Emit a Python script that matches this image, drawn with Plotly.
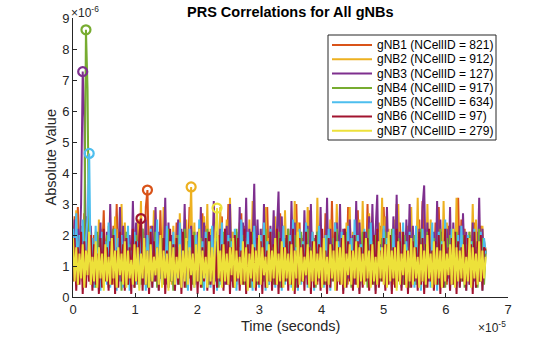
import numpy as np
import plotly.graph_objects as go

# ---------------- data (values in units of 1e-6) ----------------
SAMPLE_RATE = 3.84e6          # Hz (decimated correlation output)
VALUE_UNIT = 1e-6

names = ["gNB1 (NCellID = 821)", "gNB2 (NCellID = 912)", "gNB3 (NCellID = 127)",
         "gNB4 (NCellID = 917)", "gNB5 (NCellID = 634)", "gNB6 (NCellID = 97)",
         "gNB7 (NCellID = 279)"]

gnb1 = [1.2, 2.6, 0.7, 2.9, 1.0, 2.3, 0.5, 2.7, 0.9, 2.1, 0.6, 1.8, 1.1, 2.0, 0.4, 1.7,
        0.8, 2.2, 1.3, 2.8, 0.6, 1.9, 0.9, 1.6, 0.5, 2.3, 1.0, 3.0, 0.7, 2.1, 0.8, 1.5,
        0.5, 2.0, 1.1, 1.7, 0.6, 2.2, 0.9, 1.8, 0.4, 2.5, 1.2, 2.1, 0.7, 2.9, 3.45, 0.9,
        2.3, 0.6, 1.6, 1.0, 1.9, 0.5, 2.8, 0.8, 2.2, 1.3, 1.7, 0.4, 2.0, 0.9, 1.5, 0.6,
        2.4, 1.1, 1.9, 0.5, 1.6, 0.8, 2.2, 1.0, 2.9, 0.6, 2.1, 0.4, 1.7, 1.2, 1.8, 0.7,
        2.7, 0.9, 2.3, 0.5, 2.0, 1.1, 1.6, 0.6, 2.4, 0.8, 1.9, 1.3, 2.6, 0.5, 2.2, 0.9,
        3.0, 0.7, 2.1, 1.0, 1.7, 0.4, 1.8, 0.9, 2.7, 0.6, 2.3, 1.2, 2.0, 0.5, 1.6, 0.8,
        2.2, 1.1, 1.6, 0.6, 1.9, 0.9, 2.4, 0.5, 2.9, 1.0, 2.1, 0.7, 1.7, 0.4, 2.0, 1.2,
        2.7, 0.6, 2.3, 0.9, 1.8, 0.5, 1.6, 1.1, 2.2, 0.7, 3.0, 0.8, 2.4, 0.5, 1.9, 1.0,
        1.7, 0.6, 2.8, 0.9, 2.1, 1.2, 1.6, 0.4, 2.3, 0.8, 1.9, 0.6, 2.7, 1.0, 2.2, 0.5,
        3.1, 0.8, 2.4, 1.1, 2.0, 0.6, 1.7, 0.9, 2.2, 0.5, 2.9, 1.2, 1.6, 0.7, 1.9, 0.9,
        2.8, 0.5, 1.8, 1.0, 2.1, 0.7, 3.0, 0.6, 2.4, 1.1, 2.0, 0.4, 1.7, 0.9, 2.3, 0.6,
        2.9, 1.0, 2.2, 0.5, 1.6, 0.8, 1.9, 1.2, 3.0, 0.6, 2.4, 0.9, 2.1, 0.5, 1.8, 1.0,
        2.3, 0.7, 1.7, 0.4, 2.0, 1.1, 2.5, 0.6, 3.1, 0.8, 2.2, 1.0, 1.6, 0.5, 1.9, 0.9,
        2.4, 0.6, 2.9, 1.2, 2.1, 0.7, 1.6, 0.4, 2.3, 1.0, 1.8, 0.6, 2.0, 0.9, 3.2, 0.7,
        2.5, 1.1, 2.2, 0.5, 1.7, 0.8, 2.0, 0.6, 2.4, 1.0, 2.1, 0.5, 2.3, 0.9, 1.8, 1.4]

gnb2 = [2.0, 0.9, 2.8, 0.6, 1.7, 1.1, 1.9, 0.5, 2.6, 0.8, 2.2, 0.4, 1.8, 1.0, 2.1, 0.7,
        2.5, 0.5, 2.0, 1.2, 1.6, 0.6, 2.3, 0.9, 1.8, 0.4, 2.6, 1.0, 2.2, 0.7, 3.0, 0.5,
        2.4, 0.8, 1.9, 0.5, 1.7, 1.1, 2.1, 0.6, 2.5, 0.9, 3.1, 0.4, 2.0, 0.8, 1.6, 0.6,
        2.2, 1.0, 2.8, 0.5, 1.9, 0.7, 1.7, 0.9, 2.9, 0.6, 2.1, 1.2, 1.6, 0.4, 2.3, 0.8,
        2.0, 0.5, 2.7, 0.9, 1.8, 0.6, 2.5, 1.0, 1.8, 3.55, 0.7, 2.4, 0.5, 1.7, 1.1, 2.1,
        0.6, 2.6, 0.9, 3.0, 0.5, 2.2, 0.8, 1.7, 1.0, 2.0, 0.4, 2.9, 0.7, 1.6, 1.1, 2.5,
        0.6, 3.2, 0.9, 2.1, 0.5, 1.6, 1.2, 2.4, 0.7, 1.8, 0.4, 2.0, 0.9, 2.5, 0.6, 3.1,
        1.0, 2.3, 0.5, 1.7, 0.8, 2.2, 0.6, 2.9, 1.1, 1.9, 0.5, 2.0, 0.8, 2.6, 0.4, 1.8,
        0.9, 2.2, 0.6, 2.8, 1.0, 1.6, 0.5, 2.1, 0.8, 3.1, 0.6, 2.4, 1.2, 1.7, 0.5, 2.3,
        0.9, 2.9, 0.6, 2.0, 1.0, 1.8, 0.4, 3.2, 0.7, 2.3, 0.9, 1.6, 0.5, 2.1, 1.1, 2.5,
        0.6, 1.7, 0.8, 3.0, 0.5, 2.2, 1.0, 1.8, 0.7, 2.4, 0.4, 2.9, 0.9, 2.1, 0.6, 1.6,
        1.1, 2.5, 0.5, 3.1, 0.8, 1.9, 0.6, 2.7, 1.0, 2.0, 0.5, 1.7, 0.7, 2.4, 0.9, 3.2,
        0.5, 2.6, 1.0, 2.2, 0.6, 1.8, 0.4, 2.5, 0.9, 3.0, 0.7, 2.1, 1.1, 1.7, 0.5, 2.3,
        0.8, 2.9, 0.6, 1.9, 1.0, 3.2, 0.5, 2.2, 0.9, 1.6, 0.4, 3.0, 0.7, 2.5, 1.2, 1.8,
        0.6, 2.3, 0.9, 1.7, 0.5, 3.1, 0.8, 2.4, 0.6, 1.9, 1.0, 2.2, 0.5, 3.2, 0.7, 2.0,
        0.9, 2.4, 0.5, 1.8, 1.1, 2.1, 0.6, 3.0, 0.8, 2.5, 0.4, 1.7, 0.9, 2.3, 1.0, 1.6]

gnb3 = [1.0, 2.5, 0.7, 2.2, 1.2, 3.0, 7.27, 5.8, 0.9, 2.6, 0.5, 2.3, 1.0, 1.8, 0.6, 2.0,
        0.9, 2.4, 0.5, 1.7, 1.1, 2.1, 0.6, 3.0, 0.8, 2.2, 0.4, 1.6, 1.0, 2.9, 0.7, 2.3,
        0.5, 1.7, 0.9, 2.0, 0.6, 3.1, 1.0, 2.4, 0.5, 1.8, 0.8, 2.2, 0.4, 2.5, 1.1, 1.9,
        0.7, 2.3, 0.5, 2.9, 0.9, 2.1, 0.6, 1.6, 1.0, 3.2, 0.4, 2.4, 0.8, 2.0, 0.6, 1.7,
        1.0, 2.5, 0.5, 2.2, 0.8, 3.0, 0.6, 1.8, 0.9, 2.3, 0.5, 1.6, 1.1, 2.1, 0.7, 2.9,
        0.4, 2.4, 0.8, 1.7, 0.6, 2.0, 1.0, 3.1, 0.5, 2.5, 0.9, 2.2, 0.6, 1.8, 0.4, 2.3,
        0.8, 3.0, 0.5, 1.6, 1.0, 2.1, 0.7, 2.9, 0.5, 2.4, 0.9, 3.2, 0.6, 2.2, 0.8, 1.7,
        3.65, 0.6, 2.5, 0.9, 2.2, 0.5, 3.0, 0.8, 1.6, 0.4, 2.3, 1.0, 2.8, 0.6, 2.1, 3.4,
        0.7, 2.6, 0.5, 1.9, 0.9, 2.2, 0.6, 3.1, 1.0, 2.4, 0.5, 1.7, 0.8, 2.0, 0.6, 2.8,
        0.9, 2.3, 0.5, 3.0, 0.7, 1.8, 1.0, 2.1, 0.6, 2.9, 0.4, 1.6, 0.8, 3.2, 0.5, 2.2,
        1.0, 1.7, 0.6, 2.4, 0.8, 3.0, 0.5, 2.2, 0.9, 1.8, 0.6, 2.5, 1.1, 2.0, 0.4, 3.1,
        0.7, 2.4, 0.9, 1.8, 0.5, 2.1, 0.8, 2.6, 0.6, 3.0, 1.0, 2.3, 3.3, 0.5, 1.7, 0.8,
        2.2, 0.6, 2.9, 1.0, 1.6, 0.5, 2.6, 0.8, 3.3, 0.6, 2.1, 0.9, 1.8, 0.4, 2.5, 1.0,
        3.0, 0.6, 2.3, 0.8, 1.7, 0.5, 2.2, 1.0, 2.9, 3.6, 0.7, 2.4, 0.5, 1.6, 0.9, 2.1,
        0.6, 3.1, 0.8, 2.5, 0.5, 1.8, 1.0, 2.2, 0.6, 2.9, 0.4, 2.4, 0.9, 1.7, 0.7, 2.3,
        0.5, 2.7, 1.0, 2.1, 0.6, 1.9, 0.8, 2.4, 0.5, 1.6, 0.9, 3.2, 0.6, 2.2, 0.8, 1.5]

gnb4 = [1.5, 0.6, 2.0, 0.4, 1.8, 0.9, 2.2, 1.7, 8.62, 6.7, 0.8, 1.9, 0.5, 1.6, 0.3, 2.1,
        0.7, 1.8, 0.4, 1.5, 0.9, 2.0, 0.3, 1.7, 0.6, 2.2, 0.5, 1.4, 0.8, 1.9, 0.2, 1.6,
        0.6, 2.1, 0.4, 1.7, 0.8, 1.5, 0.3, 2.0, 0.6, 1.8, 0.4, 2.2, 0.7, 1.6, 0.3, 1.9,
        0.5, 1.4, 0.8, 2.1, 0.3, 1.7, 0.6, 1.9, 0.4, 1.5, 0.9, 2.2, 0.5, 1.8, 0.2, 1.6,
        0.7, 2.0, 0.4, 1.6, 0.8, 2.2, 0.3, 1.8, 0.6, 1.5, 0.4, 2.1, 0.7, 1.7, 0.5, 1.9,
        0.3, 1.6, 0.7, 2.2, 0.4, 1.8, 0.6, 1.4, 0.9, 2.0, 0.3, 1.7, 0.5, 2.1, 0.8, 1.5,
        0.4, 1.9, 0.6, 1.7, 0.3, 2.2, 0.8, 1.6, 0.5, 2.0, 0.4, 1.8, 0.7, 1.5, 0.3, 2.1,
        0.6, 1.7, 0.4, 2.0, 0.8, 1.5, 0.5, 2.2, 0.3, 1.8, 0.7, 1.6, 0.4, 1.9, 0.6, 2.1,
        0.3, 1.5, 0.7, 1.9, 0.5, 2.2, 0.4, 1.7, 0.8, 2.0, 0.3, 1.6, 0.6, 2.1, 0.5, 1.8,
        0.7, 2.2, 0.4, 1.6, 0.6, 1.9, 0.3, 2.1, 0.8, 1.5, 0.5, 1.8, 0.4, 2.0, 0.7, 1.7,
        0.5, 1.9, 0.3, 2.2, 0.7, 1.6, 0.5, 1.8, 0.4, 2.1, 0.8, 1.5, 0.3, 1.9, 0.6, 2.0,
        0.4, 1.7, 0.8, 2.1, 0.5, 1.5, 0.3, 2.2, 0.6, 1.8, 0.4, 2.0, 0.7, 1.6, 0.5, 1.9,
        0.6, 2.1, 0.4, 1.8, 0.7, 2.2, 0.5, 1.5, 0.3, 1.9, 0.8, 1.7, 0.4, 2.0, 0.6, 1.6,
        0.3, 1.8, 0.6, 2.0, 0.4, 1.6, 0.8, 2.2, 0.5, 1.7, 0.3, 2.1, 0.6, 1.5, 0.4, 1.9,
        0.7, 1.6, 0.4, 2.2, 0.6, 1.8, 0.3, 1.9, 0.8, 2.0, 0.5, 1.5, 0.4, 2.1, 0.6, 1.7,
        0.5, 2.0, 0.3, 1.7, 0.7, 2.1, 0.4, 1.8, 0.6, 1.6, 0.3, 2.2, 0.5, 1.9, 0.4, 1.5]

gnb5 = [2.2, 0.8, 2.7, 0.5, 2.0, 0.9, 2.5, 0.4, 1.8, 2.6, 4.63, 0.6, 1.9, 0.3, 2.3, 0.7,
        1.6, 0.2, 2.1, 0.6, 1.8, 0.4, 2.4, 0.3, 1.5, 0.7, 2.2, 0.2, 1.9, 0.5, 2.0, 0.3,
        1.7, 0.6, 2.3, 0.2, 1.5, 0.5, 2.1, 0.4, 1.8, 0.3, 2.4, 0.6, 1.6, 0.2, 2.0, 0.5,
        2.2, 0.3, 1.7, 0.6, 2.5, 0.2, 1.9, 0.4, 1.6, 0.5, 2.3, 0.3, 1.8, 0.6, 2.1, 0.2,
        1.5, 0.4, 2.4, 0.3, 1.9, 0.6, 1.7, 0.2, 2.2, 0.5, 1.6, 0.3, 2.0, 0.4, 2.5, 0.6,
        1.8, 0.2, 2.1, 0.5, 1.6, 0.3, 2.3, 0.6, 1.9, 0.2, 1.7, 0.4, 2.4, 0.3, 1.5, 0.5,
        2.0, 0.3, 1.8, 0.6, 2.2, 0.2, 1.6, 0.4, 2.5, 0.5, 1.9, 0.3, 2.1, 0.6, 1.7, 0.2,
        2.3, 0.5, 1.6, 0.3, 2.0, 0.6, 2.4, 0.2, 1.8, 0.4, 2.2, 0.5, 1.5, 0.3, 2.1, 0.6,
        1.9, 0.2, 2.3, 0.4, 1.7, 0.6, 2.0, 0.3, 2.5, 0.5, 1.6, 0.2, 2.2, 0.4, 1.8, 0.6,
        2.4, 0.3, 1.5, 0.5, 2.1, 0.2, 1.9, 0.6, 2.3, 0.4, 1.7, 0.3, 2.0, 0.5, 2.2, 0.2,
        1.6, 0.6, 2.4, 0.3, 1.8, 0.5, 2.1, 0.2, 1.7, 0.4, 2.3, 0.6, 1.9, 0.3, 2.5, 0.5,
        2.0, 0.2, 1.7, 0.4, 2.2, 0.6, 1.5, 0.3, 2.4, 0.5, 1.8, 0.2, 2.1, 0.4, 1.6, 0.6,
        2.3, 0.3, 1.9, 0.5, 1.6, 0.2, 2.2, 0.4, 2.0, 0.6, 1.7, 0.3, 2.4, 0.5, 1.8, 0.2,
        2.1, 0.6, 1.5, 0.3, 2.3, 0.4, 1.9, 0.2, 2.2, 0.5, 1.6, 0.6, 2.0, 0.3, 2.4, 0.4,
        1.7, 0.2, 2.1, 0.5, 1.8, 0.3, 2.5, 0.6, 1.6, 0.2, 2.2, 0.4, 1.9, 0.5, 2.0, 0.3,
        2.3, 0.6, 1.7, 0.2, 2.0, 0.4, 1.8, 0.5, 2.2, 0.3, 1.6, 0.6, 2.1, 0.2, 1.9, 1.4]

gnb6 = [0.5, 1.9, 0.2, 1.6, 0.4, 2.1, 0.1, 1.8, 0.3, 1.5, 0.5, 2.0, 0.2, 1.7, 0.4, 1.4,
        0.1, 1.9, 0.3, 2.2, 0.5, 1.6, 0.2, 1.8, 0.4, 2.0, 0.1, 1.5, 0.3, 2.1, 0.5, 1.7,
        0.2, 1.9, 0.4, 1.6, 0.1, 2.2, 0.3, 1.8, 0.5, 2.0, 2.53, 0.2, 1.7, 0.4, 1.5, 0.1,
        2.1, 0.3, 1.8, 0.5, 1.6, 0.2, 2.0, 0.4, 1.9, 0.1, 1.5, 0.3, 2.2, 0.5, 1.7, 0.2,
        1.9, 0.4, 1.6, 0.1, 2.1, 0.3, 1.8, 0.5, 1.5, 0.2, 2.0, 0.4, 1.7, 0.1, 2.2, 0.3,
        1.6, 0.5, 1.9, 0.2, 2.1, 0.4, 1.5, 0.1, 1.8, 0.3, 2.0, 0.5, 1.7, 0.2, 2.2, 0.4,
        1.8, 0.1, 1.6, 0.3, 2.0, 0.5, 1.9, 0.2, 1.5, 0.4, 2.2, 0.1, 1.7, 0.3, 2.1, 0.5,
        1.6, 0.2, 1.9, 0.4, 1.8, 0.1, 2.0, 0.3, 1.5, 0.5, 2.1, 0.2, 1.7, 0.4, 2.2, 0.1,
        1.9, 0.3, 1.6, 0.5, 2.0, 0.2, 1.8, 0.4, 2.2, 0.1, 1.5, 0.3, 1.9, 0.5, 1.7, 0.2,
        2.1, 0.4, 1.6, 0.1, 1.8, 0.3, 2.0, 0.5, 1.7, 0.2, 2.2, 0.4, 1.5, 0.1, 1.9, 0.3,
        1.7, 0.5, 2.1, 0.2, 1.6, 0.4, 1.9, 0.1, 2.2, 0.3, 1.8, 0.5, 1.5, 0.2, 2.0, 0.4,
        1.8, 0.1, 1.6, 0.3, 2.1, 0.5, 1.9, 0.2, 1.7, 0.4, 2.0, 0.1, 2.2, 0.3, 1.5, 0.5,
        1.9, 0.2, 1.7, 0.4, 2.0, 0.1, 1.6, 0.3, 2.2, 0.5, 1.8, 0.2, 2.1, 0.4, 1.5, 0.1,
        2.0, 0.3, 1.8, 0.5, 1.6, 0.2, 2.1, 0.4, 1.9, 0.1, 1.7, 0.3, 2.2, 0.5, 1.5, 0.2,
        1.8, 0.4, 2.0, 0.1, 1.7, 0.3, 2.2, 0.5, 1.6, 0.2, 1.9, 0.4, 2.1, 0.1, 1.8, 0.3,
        1.6, 0.5, 2.0, 0.2, 1.9, 0.4, 1.7, 0.1, 2.1, 0.3, 1.8, 0.5, 2.0, 0.2, 1.6, 1.5]

gnb7 = [1.9, 0.5, 1.6, 0.4, 1.4, 0.6, 1.7, 0.3, 1.5, 0.7, 2.1, 0.4, 1.3, 0.5, 1.8, 0.3,
        1.6, 0.6, 1.4, 0.2, 1.7, 0.5, 1.3, 0.4, 1.9, 0.6, 1.5, 0.3, 1.6, 0.7, 1.4, 0.4,
        1.8, 0.3, 1.5, 0.6, 1.2, 0.4, 1.7, 0.5, 1.6, 0.2, 1.4, 0.6, 1.9, 0.4, 1.5, 0.3,
        1.7, 0.5, 1.3, 0.7, 1.6, 0.4, 2.0, 0.3, 1.5, 0.6, 1.4, 0.2, 1.8, 0.5, 1.6, 0.4,
        1.3, 0.6, 1.7, 0.3, 1.5, 0.5, 1.9, 0.4, 1.6, 0.7, 1.4, 0.3, 1.7, 0.5, 2.2, 0.4,
        1.5, 0.6, 1.3, 0.3, 1.8, 0.5, 1.6, 0.4, 2.1, 2.87, 0.6, 1.5, 0.3, 1.7, 0.5, 1.4,
        0.4, 1.6, 0.7, 1.9, 0.3, 1.5, 0.6, 1.3, 0.4, 1.8, 0.5, 1.6, 0.2, 1.4, 0.6, 1.7,
        0.3, 1.5, 0.5, 2.0, 0.4, 1.6, 0.7, 1.3, 0.3, 1.7, 0.5, 1.5, 0.6, 1.9, 0.4, 1.4,
        0.5, 1.8, 0.3, 1.6, 0.6, 1.4, 0.4, 1.7, 0.2, 1.5, 0.6, 2.1, 0.4, 1.6, 0.5, 1.3,
        0.7, 1.7, 0.3, 1.5, 0.5, 1.8, 0.4, 1.4, 0.6, 1.6, 0.3, 1.9, 0.5, 1.3, 0.4, 1.7,
        0.6, 1.5, 0.2, 1.8, 0.5, 1.6, 0.4, 2.0, 0.3, 1.4, 0.7, 1.7, 0.4, 1.5, 0.6, 1.8,
        0.3, 1.6, 0.5, 1.4, 0.4, 1.9, 0.6, 1.5, 0.3, 1.7, 0.5, 1.3, 0.4, 1.8, 0.6, 1.6,
        0.4, 1.7, 0.3, 2.1, 0.5, 1.5, 0.6, 1.6, 0.2, 1.8, 0.4, 1.4, 0.7, 1.7, 0.3, 1.5,
        0.5, 1.9, 0.4, 1.6, 0.6, 1.3, 0.3, 1.7, 0.5, 1.5, 0.4, 2.0, 0.6, 1.4, 0.3, 1.8,
        0.4, 1.6, 0.6, 1.5, 0.3, 1.8, 0.5, 1.4, 0.7, 1.7, 0.4, 2.2, 0.3, 1.6, 0.5, 1.5,
        0.6, 1.7, 0.4, 1.3, 0.5, 1.9, 0.3, 1.6, 0.6, 1.4, 0.4, 1.8, 0.5, 1.5, 0.6, 1.3]

series = [gnb1, gnb2, gnb3, gnb4, gnb5, gnb6, gnb7]
colors = ["#D95319", "#EDB120", "#7E2F8E", "#77AC30", "#4DBEEE", "#A2142F", "#EDE13A"]

x_ticks = [0, 1, 2, 3, 4, 5, 6, 7]           # x 1e-5 s
y_ticks = [0, 1, 2, 3, 4, 5, 6, 7, 8, 9]     # x 1e-6

# ---------------- layout constants ----------------
W, H = 560, 337
L, R, T, B = 73, 52, 18, 40
PW, PH = W - L - R, H - T - B
FONT = "Liberation Sans, Arial, Helvetica, sans-serif"
TXT = "#262626"


def px(xpix):
    return (xpix - L) / PW


def py(ypix):
    return (H - B - ypix) / PH


fig = go.Figure()
for name, vals, col in zip(names, series, colors):
    v = np.asarray(vals) * VALUE_UNIT
    t = np.arange(len(v)) / SAMPLE_RATE
    fig.add_trace(go.Scatter(x=t, y=v, mode="lines", name=name,
                             line=dict(color=col, width=2.0), showlegend=False,
                             hoverinfo="skip"))
for name, vals, col in zip(names, series, colors):
    v = np.asarray(vals) * VALUE_UNIT
    t = np.arange(len(v)) / SAMPLE_RATE
    k = int(np.argmax(v))
    fig.add_trace(go.Scatter(x=[t[k]], y=[v[k]], mode="markers", showlegend=False,
                             marker=dict(symbol="circle-open", size=9, color=col,
                                         line=dict(width=2.2, color=col)),
                             hoverinfo="skip"))

axis_common = dict(showgrid=False, zeroline=False, showline=True, linecolor=TXT,
                   linewidth=1, ticks="inside", ticklen=4, tickcolor=TXT,
                   tickfont=dict(family=FONT, size=13, color=TXT), mirror=False)

fig.update_xaxes(range=[0, 7e-5], tickvals=[v * 1e-5 for v in x_ticks],
                 ticktext=[str(v) for v in x_ticks], **axis_common)
fig.update_yaxes(range=[0, 9e-6], tickvals=[v * 1e-6 for v in y_ticks],
                 ticktext=[str(v) for v in y_ticks], **axis_common)

annotations = [
    dict(text="<b>PRS Correlations for All gNBs</b>", x=0.5, y=py(12), xref="paper",
         yref="paper", showarrow=False, font=dict(family=FONT, size=14.5, color="black"),
         xanchor="center", yanchor="middle"),
    dict(text="Time (seconds)", x=0.5, y=py(326), xref="paper", yref="paper",
         showarrow=False, font=dict(family=FONT, size=14.5, color=TXT),
         xanchor="center", yanchor="middle"),
    dict(text="Absolute Value", x=px(50), y=0.5, xref="paper", yref="paper",
         showarrow=False, textangle=-90, font=dict(family=FONT, size=14.5, color=TXT),
         xanchor="center", yanchor="middle"),
    dict(text="×10<sup>-6</sup>", x=px(69), y=py(12), xref="paper", yref="paper",
         showarrow=False, font=dict(family=FONT, size=12, color=TXT),
         xanchor="left", yanchor="middle"),
    dict(text="×10<sup>-5</sup>", x=px(508), y=py(327), xref="paper", yref="paper",
         showarrow=False, font=dict(family=FONT, size=12, color=TXT),
         xanchor="right", yanchor="middle"),
]

shapes = [dict(type="rect", xref="paper", yref="paper", x0=px(328), x1=px(496),
               y0=py(140), y1=py(35), line=dict(color=TXT, width=1), fillcolor="white",
               layer="above")]
LEG_Y0, LEG_DY = 45, 14.3
for i, (name, col) in enumerate(zip(names, colors)):
    yy = LEG_Y0 + i * LEG_DY
    shapes.append(dict(type="line", xref="paper", yref="paper", x0=px(332), x1=px(372),
                       y0=py(yy), y1=py(yy), line=dict(color=col, width=2), layer="above"))
    annotations.append(dict(text=name, x=px(375), y=py(yy), xref="paper", yref="paper",
                            showarrow=False, xanchor="left", yanchor="middle",
                            font=dict(family=FONT, size=12, color="black")))

fig.update_layout(width=W, height=H, margin=dict(l=L, r=R, t=T, b=B),
                  paper_bgcolor="white", plot_bgcolor="white", showlegend=False,
                  annotations=annotations, shapes=shapes)

fig.write_html("out.html")
